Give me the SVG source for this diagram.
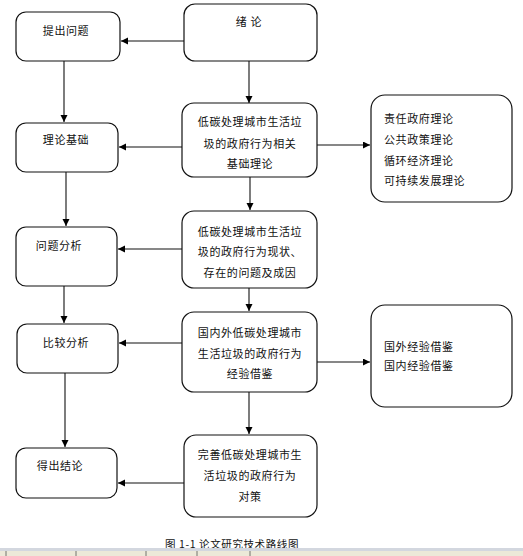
<svg xmlns="http://www.w3.org/2000/svg" width="523" height="556" viewBox="0 0 523 556">
<defs>
<marker id="ah" markerUnits="userSpaceOnUse" markerWidth="8" markerHeight="8" refX="7" refY="3.5" orient="auto">
<path d="M0,0 L7,3.5 L0,7 z" fill="#000"/>
</marker>
<style>
.box{fill:#fff;stroke:#111;stroke-width:1.2}
.t{font-family:"Noto Sans CJK SC","Noto Sans",sans-serif;font-size:11px;fill:#111;letter-spacing:0.6px}
.c{text-anchor:middle}
.ln{stroke:#111;stroke-width:1.1;fill:none;marker-end:url(#ah)}
</style>
</defs>
<rect width="523" height="556" fill="#fff"/>

<g id="n-xulun"><rect class="box" x="184" y="4" width="133" height="57" rx="11"/><text class="t c" x="249" y="26">绪 论</text></g>
<g id="n-tichu"><rect class="box" x="16" y="12" width="104" height="49" rx="10"/><text class="t c" x="66" y="35">提出问题</text></g>

<g id="n-lilun"><rect class="box" x="16" y="123" width="102" height="49" rx="10"/><text class="t c" x="66" y="144">理论基础</text></g>
<g id="n-mid2"><rect class="box" x="182" y="103" width="135" height="74" rx="12"/>
<text class="t c" x="250" y="126">低碳处理城市生活垃</text>
<text class="t c" x="250" y="148">圾的政府行为相关</text>
<text class="t c" x="250" y="168">基础理论</text></g>
<g id="n-right1"><rect class="box" x="371" y="95" width="141" height="107" rx="14"/>
<text class="t" x="384" y="123">责任政府理论</text>
<text class="t" x="384" y="144">公共政策理论</text>
<text class="t" x="384" y="165">循环经济理论</text>
<text class="t" x="384" y="185">可持续发展理论</text></g>

<g id="n-wenti"><rect class="box" x="16" y="227" width="101" height="59" rx="10"/><text class="t c" x="59" y="250">问题分析</text></g>
<g id="n-mid3"><rect class="box" x="182" y="211" width="135" height="77" rx="12"/>
<text class="t c" x="250" y="236">低碳处理城市生活垃</text>
<text class="t c" x="250" y="256">圾的政府行为现状、</text>
<text class="t c" x="250" y="277">存在的问题及成因</text></g>

<g id="n-bijiao"><rect class="box" x="17" y="324" width="101" height="49" rx="10"/><text class="t c" x="66" y="347">比较分析</text></g>
<g id="n-mid4"><rect class="box" x="182" y="312" width="135" height="80" rx="12"/>
<text class="t c" x="250" y="337">国内外低碳处理城市</text>
<text class="t c" x="250" y="358">生活垃圾的政府行为</text>
<text class="t c" x="250" y="378">经验借鉴</text></g>
<g id="n-right2"><rect class="box" x="371" y="305" width="141" height="102" rx="14"/>
<text class="t" x="384" y="351">国外经验借鉴</text>
<text class="t" x="384" y="370">国内经验借鉴</text></g>

<g id="n-dechu"><rect class="box" x="16" y="448" width="101" height="50" rx="10"/><text class="t c" x="60" y="470">得出结论</text></g>
<g id="n-mid5"><rect class="box" x="184" y="435" width="133" height="82" rx="12"/>
<text class="t c" x="250" y="459">完善低碳处理城市生</text>
<text class="t c" x="250" y="480">活垃圾的政府行为</text>
<text class="t c" x="250" y="501">对策</text></g>

<g id="connectors">
<line class="ln" x1="184" y1="41" x2="121" y2="41"/>
<line class="ln" x1="249" y1="61" x2="249" y2="103"/>
<line class="ln" x1="64" y1="61" x2="64" y2="122"/>
<line class="ln" x1="182" y1="147" x2="119" y2="147"/>
<line class="ln" x1="317" y1="145" x2="370" y2="145"/>
<line class="ln" x1="66" y1="172" x2="66" y2="226"/>
<line class="ln" x1="250" y1="177" x2="250" y2="210"/>
<line class="ln" x1="182" y1="249" x2="118" y2="249"/>
<line class="ln" x1="64" y1="286" x2="64" y2="323"/>
<line class="ln" x1="249" y1="288" x2="249" y2="311"/>
<line class="ln" x1="182" y1="343" x2="119" y2="343"/>
<line class="ln" x1="317" y1="362" x2="370" y2="362"/>
<line class="ln" x1="65" y1="373" x2="65" y2="447"/>
<line class="ln" x1="249" y1="392" x2="249" y2="434"/>
<line class="ln" x1="184" y1="483" x2="118" y2="483"/>
</g>

<text class="t c" x="232" y="548" style="font-size:10.5px">图 1-1  论文研究技术路线图</text>

<g id="statusbar">
<rect x="0" y="548" width="523" height="3" fill="#d3d7df"/>
<rect x="0" y="551" width="523" height="5" fill="#ece9d8"/>
<g stroke="#555" stroke-width="0.8">
<line x1="6" y1="551" x2="6" y2="556"/>
<line x1="76" y1="551" x2="76" y2="556"/>
<line x1="146" y1="551" x2="146" y2="556"/>
<line x1="197" y1="551" x2="197" y2="556"/>
<line x1="250" y1="551" x2="250" y2="556"/>
</g>
</g>
</svg>
